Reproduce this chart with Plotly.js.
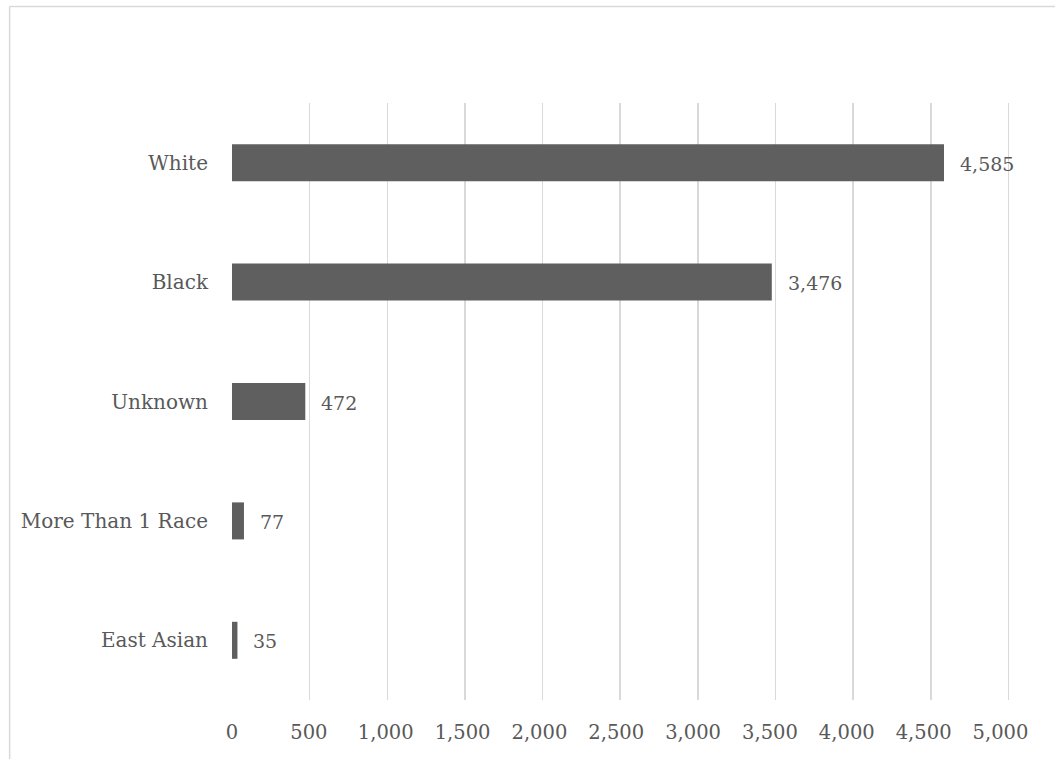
<!DOCTYPE html>
<html>
<head>
<meta charset="utf-8">
<script src="https://cdn.plot.ly/plotly-3.0.1.min.js"></script>
<style>
  html, body { margin: 0; padding: 0; background: #ffffff; }
  #chart { width: 1055px; height: 759px; }
</style>
</head>
<body>
<div id="chart"></div>
<script>
// Categories listed top to bottom, with their counts
const categories = ["White", "Black", "Unknown", "More Than 1 Race", "East Asian"];
const counts = [4585, 3476, 472, 77, 35];
const tickValues = [0, 500, 1000, 1500, 2000, 2500, 3000, 3500, 4000, 4500, 5000];

const textColor = "#595959";
const gridColor = "#d9d9d9";
const serif = "DejaVu Serif, Liberation Serif, serif";

const bars = {
  type: "bar",
  orientation: "h",
  x: counts,
  y: categories,
  marker: { color: "#5f5f5f" },
  hoverinfo: "x+y"
};

// empty trace so the labelled bottom axis is laid out
const labelAxisHolder = {
  type: "scatter",
  mode: "markers",
  x: [],
  y: [],
  xaxis: "x2",
  yaxis: "y",
  hoverinfo: "skip",
  showlegend: false
};

// value labels just beyond the end of each bar
const valueLabels = counts.map((v, i) => ({
  x: v,
  y: categories[i],
  xref: "x",
  yref: "y",
  text: v.toLocaleString("en-US"),
  showarrow: false,
  xanchor: "left",
  yanchor: "middle",
  xshift: 14,
  yshift: -1,
  font: { family: serif, size: 19, color: textColor }
}));

const W = 1055, H = 759;
const L = 232, R = 44.5, T = 103, B = 59;
const plotW = W - L - R, plotH = H - T - B;
const px = p => (p - L) / plotW;
const py = p => (H - B - p) / plotH;

const layout = {
  width: W,
  height: H,
  margin: { l: L, r: R, t: T, b: B, pad: 0 },
  paper_bgcolor: "#ffffff",
  plot_bgcolor: "#ffffff",
  showlegend: false,
  bargap: 0.69,
  font: { family: serif, color: textColor },
  xaxis: {
    range: [0, 5010],
    tickvals: tickValues,
    showticklabels: false,
    showgrid: true,
    gridcolor: gridColor,
    gridwidth: 1.5,
    zeroline: true,
    zerolinecolor: "rgba(0,0,0,0)",
    showline: false,
    ticks: "",
    fixedrange: true
  },
  xaxis2: {
    overlaying: "x",
    anchor: "y",
    side: "bottom",
    range: [0, 5062],
    tickvals: tickValues,
    tickformat: ",d",
    showgrid: false,
    zeroline: false,
    showline: false,
    ticks: "outside",
    ticklen: 15,
    tickcolor: "rgba(0,0,0,0)",
    tickfont: { family: serif, size: 19.5, color: textColor },
    fixedrange: true
  },
  yaxis: {
    type: "category",
    autorange: "reversed",
    showgrid: false,
    zeroline: false,
    showline: false,
    ticks: "outside",
    ticklen: 19,
    tickcolor: "rgba(0,0,0,0)",
    tickfont: { family: serif, size: 20, color: textColor },
    fixedrange: true
  },
  annotations: valueLabels,
  shapes: [
    // chart frame edges (left and top)
    { type: "line", xref: "paper", yref: "paper",
      x0: px(9.5), x1: px(9.5), y0: py(6.5), y1: py(H + 10),
      line: { color: gridColor, width: 1.5 } },
    { type: "line", xref: "paper", yref: "paper",
      x0: px(9.5), x1: px(W + 10), y0: py(6.5), y1: py(6.5),
      line: { color: gridColor, width: 1.5 } }
  ]
};

Plotly.newPlot("chart", [bars, labelAxisHolder], layout, { displayModeBar: false, staticPlot: true });
</script>
</body>
</html>
